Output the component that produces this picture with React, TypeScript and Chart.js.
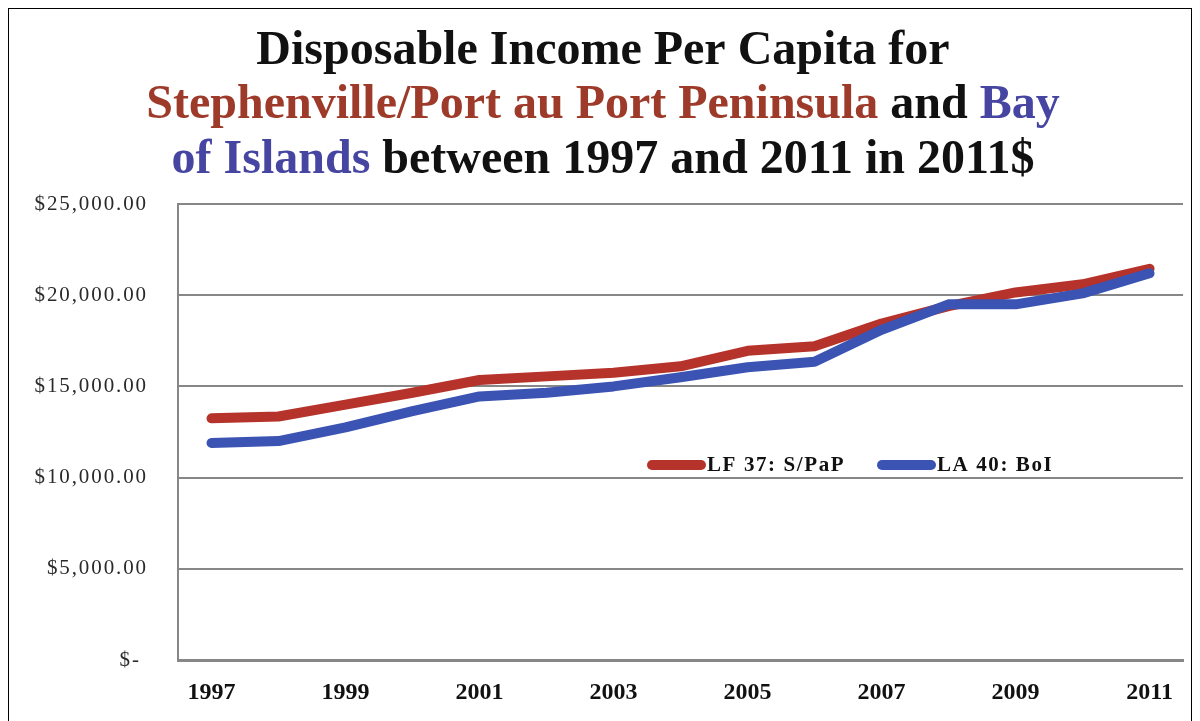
import React, { useEffect, useRef } from "react";
import { Chart, registerables } from "chart.js";

Chart.register(...registerables);

const YEARS = ["1997","1998","1999","2000","2001","2002","2003","2004","2005","2006","2007","2008","2009","2010","2011"];
const SPAP = [13250, 13350, 14000, 14650, 15350, 15550, 15750, 16100, 16950, 17200, 18450, 19400, 20150, 20600, 21450];
const BOI = [11900, 12000, 12750, 13650, 14450, 14650, 15000, 15500, 16050, 16350, 18100, 19500, 19500, 20100, 21200];
const SERIES_NAMES = ["LF 37: S/PaP", "LA 40: BoI"];
const Y_TICKS = [0, 5000, 10000, 15000, 20000, 25000];

const RED = "#B5332A";
const BLUE = "#3B53B3";
const RED_T = "#9E3A2A";
const BLUE_T = "#4646A2";
const BLACK = "#111111";

const TITLE_LINE1 = [{ t: "Disposable Income Per Capita for", c: BLACK }];
const TITLE_LINE2 = [
  { t: "Stephenville/Port au Port Peninsula", c: RED_T },
  { t: " and ", c: BLACK },
  { t: "Bay", c: BLUE_T },
];
const TITLE_LINE3 = [
  { t: "of Islands", c: BLUE_T },
  { t: " between 1997 and 2011 in 2011$", c: BLACK },
];

const SERIF = '"Liberation Serif", "Times New Roman", serif';

function fmtMoney(v: number): string {
  if (v === 0) return "$- ";
  return "$" + v.toLocaleString("en-US", { minimumFractionDigits: 2, maximumFractionDigits: 2 });
}

const titlePlugin = {
  id: "richTitle",
  beforeDraw(chart: any) {
    const s = chart.scales && chart.scales.y;
    if (s && !s.__spaced) {
      const orig = s.drawLabels.bind(s);
      s.drawLabels = (area: any) => {
        const ctx = chart.ctx;
        ctx.save();
        ctx.letterSpacing = "1.9px";
        orig(area);
        ctx.restore();
      };
      s.__spaced = true;
    }
  },
  afterDraw(chart: any) {
    const ctx = chart.ctx;
    const lines = [TITLE_LINE1, TITLE_LINE2, TITLE_LINE3];
    const baselines = [55, 109, 164];
    const cx = 594;
    ctx.save();
    ctx.letterSpacing = "0px";
    ctx.font = `bold 48px ${SERIF}`;
    ctx.textBaseline = "alphabetic";
    ctx.textAlign = "left";
    lines.forEach((segs, i) => {
      const widths = segs.map((s) => ctx.measureText(s.t).width);
      const total = widths.reduce((a, b) => a + b, 0);
      let x = cx - total / 2;
      segs.forEach((s, j) => {
        ctx.fillStyle = s.c;
        ctx.fillText(s.t, x, baselines[i]);
        x += widths[j];
      });
    });
    ctx.restore();
  },
};

const legendPlugin = {
  id: "innerLegend",
  afterDraw(chart: any) {
    const ctx = chart.ctx;
    const items = [
      { x0: 638, x1: 697, color: RED, label: SERIES_NAMES[0] },
      { x0: 868, x1: 927, color: BLUE, label: SERIES_NAMES[1] },
    ];
    const y = 456;
    ctx.save();
    items.forEach((it) => {
      ctx.strokeStyle = it.color;
      ctx.lineWidth = 10;
      ctx.lineCap = "round";
      ctx.beginPath();
      ctx.moveTo(it.x0 + 5, y);
      ctx.lineTo(it.x1 - 5, y);
      ctx.stroke();
      ctx.fillStyle = BLACK;
      ctx.font = `bold 21px ${SERIF}`;
      ctx.letterSpacing = "1.6px";
      ctx.textBaseline = "middle";
      ctx.textAlign = "left";
      ctx.fillText(it.label, it.x1 + 1, y + 1);
    });
    ctx.restore();
  },
};

export default function App() {
  const ref = useRef<HTMLCanvasElement | null>(null);
  useEffect(() => {
    if (!ref.current) return;
    const chart = new Chart(ref.current, {
      type: "line",
      data: {
        labels: YEARS,
        datasets: [
          {
            label: SERIES_NAMES[0],
            data: SPAP,
            borderColor: RED,
            backgroundColor: RED,
            borderWidth: 10,
            pointRadius: 0,
            tension: 0,
            borderCapStyle: "round",
            borderJoinStyle: "round",
            order: 1,
          },
          {
            label: SERIES_NAMES[1],
            data: BOI,
            borderColor: BLUE,
            backgroundColor: BLUE,
            borderWidth: 10,
            pointRadius: 0,
            tension: 0,
            borderCapStyle: "round",
            borderJoinStyle: "round",
            order: 0,
          },
        ],
      },
      options: {
        animation: false,
        responsive: false,
        maintainAspectRatio: false,
        layout: { padding: { top: 195, right: 3, left: 0, bottom: 0 } },
        plugins: {
          legend: { display: false },
          title: { display: false },
          tooltip: { enabled: false },
        },
        scales: {
          x: {
            offset: true,
            grid: { display: false, drawTicks: false },
            border: { display: true, color: "#878787", width: 3 },
            ticks: {
              autoSkip: false,
              maxRotation: 0,
              padding: 18,
              color: BLACK,
              font: { family: SERIF, size: 24, weight: "bold" },
              callback: (_v: any, i: number) => (i % 2 === 0 ? YEARS[i] : ""),
            },
            afterFit: (s: any) => {
              s.height = 61;
            },
          },
          y: {
            min: 0,
            max: 25000,
            afterBuildTicks: (s: any) => {
              s.ticks = Y_TICKS.map((v) => ({ value: v }));
            },
            grid: { color: "#878787", lineWidth: 2, drawTicks: false },
            border: { display: true, color: "#878787", width: 2 },
            ticks: {
              padding: 30,
              color: "#2a2a2a",
              font: { family: SERIF, size: 21 },
              callback: (v: any) => fmtMoney(Number(v)),
            },
            afterFit: (s: any) => {
              s.width = 169;
            },
          },
        },
      },
      plugins: [titlePlugin, legendPlugin],
    });
    return () => chart.destroy();
  }, []);

  return (
    <div
      style={{
        position: "relative",
        width: 1184,
        height: 713,
        boxSizing: "border-box",
        borderTop: "1px solid #000",
        borderLeft: "1px solid #000",
        borderRight: "1px solid #000",
        background: "#fff",
        overflow: "hidden",
      }}
    >
      <canvas ref={ref} width={1182} height={712} style={{ display: "block", width: 1182, height: 712 }} />
    </div>
  );
}
